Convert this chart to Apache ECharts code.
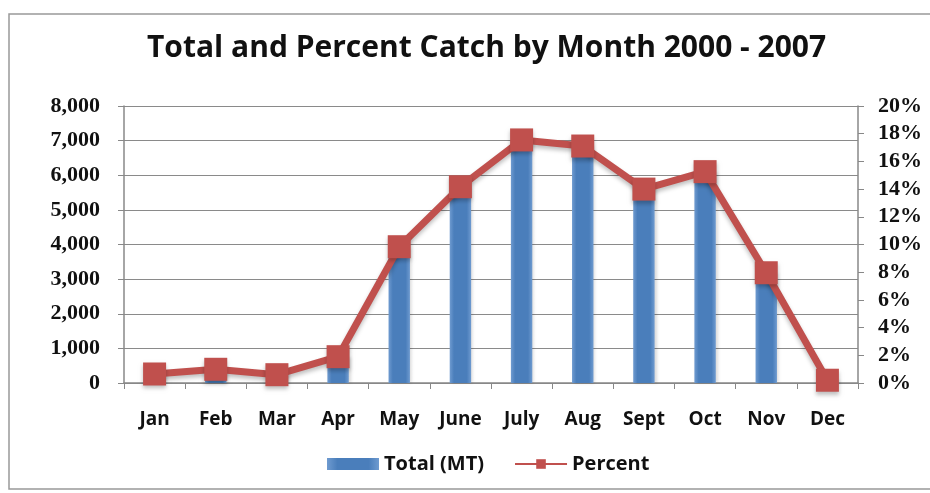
<!DOCTYPE html>
<html><head><meta charset="utf-8">
<script src="https://cdn.jsdelivr.net/npm/echarts@6/dist/echarts.min.js"></script>
<style>html,body{margin:0;padding:0;background:#fff}#c{width:930px;height:493px}</style>
</head><body><div id="c"></div>
<script>
const months = ['Jan','Feb','Mar','Apr','May','June','July','Aug','Sept','Oct','Nov','Dec'];
const totalMT = [260, 400, 240, 760, 3940, 5670, 7020, 6840, 5600, 6100, 3180, 80];
const percent = [0.65, 0.99, 0.6, 1.9, 9.84, 14.17, 17.55, 17.11, 14.0, 15.26, 7.96, 0.2];
const leftTicks = {min: 0, max: 8000, interval: 1000};
const rightTicks = {min: 0, max: 20, interval: 2};

const sans = 'Open Sans';
const serif = 'Liberation Serif';
const chart = echarts.init(document.getElementById('c'));
chart.setOption({
  animation: false,
  backgroundColor: '#fff',
  graphic: [{type: 'rect', shape: {x: 9, y: 14, width: 940, height: 475}, style: {fill: 'none', stroke: '#999', lineWidth: 1.5}}],
  title: {text: 'Total and Percent Catch by Month 2000 - 2007', left: 142, top: 28,
    textStyle: {fontFamily: sans, fontSize: 30, fontWeight: 700, color: '#111'}},
  grid: {left: 124, right: 72, top: 106, bottom: 110},
  legend: {bottom: 14, left: 322, itemGap: 30, itemWidth: 52, itemHeight: 12,
    textStyle: {fontFamily: sans, fontSize: 20, fontWeight: 700, color: '#111'},
    data: [{name: 'Total (MT)', icon: 'rect'}, {name: 'Percent'}]},
  xAxis: {type: 'category', data: months,
    axisLine: {lineStyle: {color: '#888', width: 1.5}},
    axisTick: {show: true, length: 6, lineStyle: {color: '#888'}},
    axisLabel: {margin: 27, fontFamily: sans, fontSize: 19, fontWeight: 700, color: '#111'}},
  yAxis: [
    {type: 'value', min: leftTicks.min, max: leftTicks.max, interval: leftTicks.interval, position: 'left',
      axisLine: {show: true, lineStyle: {color: '#888', width: 1.5}},
      axisTick: {show: true, length: 6, lineStyle: {color: '#888'}},
      splitLine: {lineStyle: {color: '#8a8a8a', width: 1.2}},
      axisLabel: {margin: 24, fontFamily: serif, fontSize: 22, fontWeight: 700, color: '#111',
        formatter: v => v.toLocaleString('en-US')}},
    {type: 'value', min: rightTicks.min, max: rightTicks.max, interval: rightTicks.interval, position: 'right',
      axisLine: {show: true, lineStyle: {color: '#888', width: 1.5}},
      axisTick: {show: true, length: 6, lineStyle: {color: '#888'}},
      splitLine: {show: false},
      axisLabel: {margin: 20, fontFamily: serif, fontSize: 22, fontWeight: 700, color: '#111',
        formatter: v => v + '%'}}
  ],
  series: [
    {name: 'Total (MT)', type: 'bar', data: totalMT, barWidth: '35%', yAxisIndex: 0,
      itemStyle: {color: new echarts.graphic.LinearGradient(0, 0, 1, 0, [
        {offset: 0, color: '#6f9bd0'}, {offset: 0.2, color: '#4a7ebb'},
        {offset: 0.8, color: '#4a7ebb'}, {offset: 1, color: '#6f9bd0'}]),
        shadowColor: 'rgba(0,0,0,0.15)', shadowBlur: 3, shadowOffsetX: 2}},
    {name: 'Percent', type: 'line', data: percent, yAxisIndex: 1,
      symbol: 'rect', symbolSize: 23,
      lineStyle: {color: '#c0504d', width: 7, shadowColor: 'rgba(0,0,0,0.25)', shadowBlur: 4, shadowOffsetY: 3},
      itemStyle: {color: '#c0504d', shadowColor: 'rgba(0,0,0,0.25)', shadowBlur: 4, shadowOffsetY: 3}}
  ]
});
</script></body></html>
